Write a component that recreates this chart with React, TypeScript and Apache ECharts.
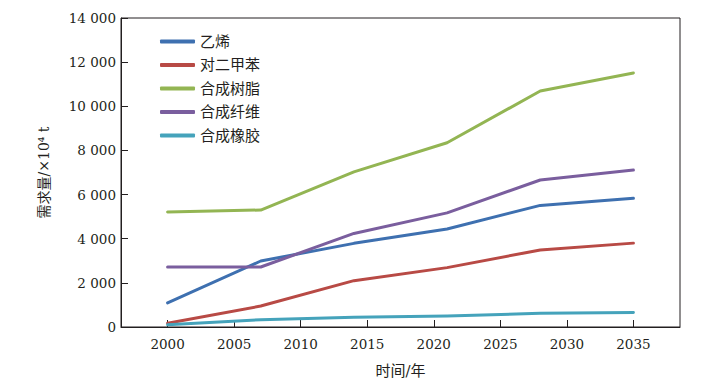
import React, { useEffect, useRef } from "react";
import * as echarts from "echarts";

const years = [2000, 2007, 2014, 2021, 2028, 2035];
const xTicks = [2000, 2005, 2010, 2015, 2020, 2025, 2030, 2035];
const ethylene = [1090, 2990, 3790, 4440, 5510, 5830];
const px = [170, 950, 2100, 2690, 3490, 3800];
const resin = [5210, 5300, 7030, 8350, 10690, 11510];
const fiber = [2720, 2720, 4240, 5170, 6660, 7110];
const rubber = [100, 330, 440, 500, 620, 660];

const names = ["乙烯", "对二甲苯", "合成树脂", "合成纤维", "合成橡胶"];
const colors = ["#3e70b0", "#b84a45", "#93b553", "#7a5e9e", "#45a3bb"];
const values = [ethylene, px, resin, fiber, rubber];

const NUMFONT = "DejaVu Serif";
const TXTFONT = "DejaVu Serif, Noto Sans CJK SC, sans-serif";
const INK = "#231f20";

function fmt(v: number) {
  const s = String(v);
  if (s.length > 3) return s.slice(0, s.length - 3) + " " + s.slice(s.length - 3);
  return s;
}

export default function App() {
  const ref = useRef<HTMLDivElement>(null);
  useEffect(() => {
    const chart = echarts.init(ref.current!, undefined, { renderer: "svg" });
    chart.setOption({
      animation: false,
      backgroundColor: "#fff",
      grid: {
        left: 121,
        right: 39,
        top: 18,
        bottom: 58,
        show: true,
        borderColor: INK,
        borderWidth: 1,
      },
      legend: {
        orient: "vertical",
        left: 160,
        top: 34,
        padding: 0,
        itemWidth: 35,
        itemHeight: 4,
        itemGap: 8.5,
        icon: "roundRect",
        textStyle: { fontFamily: TXTFONT, fontSize: 15, color: INK },
        data: names,
      },
      xAxis: {
        type: "value",
        min: 1996.5,
        max: 2038.5,
        name: "时间/年",
        nameLocation: "middle",
        nameGap: 36,
        nameTextStyle: { fontFamily: TXTFONT, fontSize: 15, color: INK },
        axisLine: { lineStyle: { color: INK, width: 1 } },
        axisTick: { inside: true, length: 7, customValues: xTicks, lineStyle: { color: INK } },
        axisLabel: {
          customValues: xTicks,
          fontFamily: NUMFONT,
          fontSize: 13.5,
          color: INK,
          margin: 10,
          formatter: (v: number) => String(Math.round(v)),
        },
        splitLine: { show: false },
      },
      yAxis: {
        type: "value",
        min: 0,
        max: 14000,
        interval: 2000,
        name: "需求量/×10⁴ t",
        nameLocation: "middle",
        nameGap: 70,
        nameTextStyle: { fontFamily: TXTFONT, fontSize: 14, color: INK },
        axisLine: { show: true, lineStyle: { color: INK, width: 1 } },
        axisTick: { show: true, inside: true, length: 7, lineStyle: { color: INK } },
        axisLabel: { fontFamily: NUMFONT, fontSize: 13.5, color: INK, margin: 5, formatter: (v: number) => fmt(v) },
        splitLine: { show: false },
      },
      series: names.map((n, i) => ({
        name: n,
        type: "line",
        data: years.map((y, j) => [y, values[i][j]]),
        showSymbol: false,
        symbol: "none",
        lineStyle: { color: colors[i], width: 3, cap: "round", join: "round" },
        itemStyle: { color: colors[i] },
      })),
    });
    return () => chart.dispose();
  }, []);
  return <div ref={ref} style={{ position: "fixed", left: 0, top: 0, width: 719, height: 385 }} />;
}
